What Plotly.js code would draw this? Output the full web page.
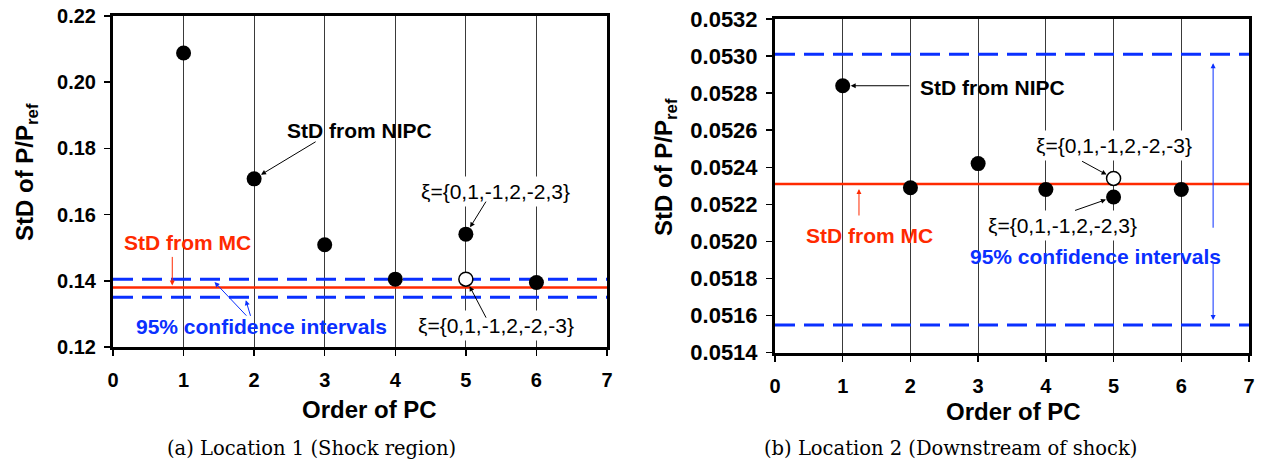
<!DOCTYPE html>
<html><head><meta charset="utf-8">
<script src="https://cdn.plot.ly/plotly-3.0.1.min.js"></script>
<style>html,body{margin:0;padding:0;background:#fff}#chart{width:1265px;height:464px}</style>
</head><body><div id="chart"></div>
<script>
// ---- data ----
const orders = [1, 2, 3, 4, 5, 6];
const lineX = [0, 7];
const xTicks = [0, 1, 2, 3, 4, 5, 6, 7];

// Location 1 (shock region)
const loc1Nipc = [0.2088, 0.1708, 0.1509, 0.1405, 0.1541, 0.1395];   // xi = {0,1,-1,2,-2,3}
const loc1AltOrder = [5];
const loc1Alt = [0.1405];                                           // xi = {0,1,-1,2,-2,-3}
const loc1Mc = [0.1380, 0.1380];
const loc1CiUpper = [0.1405, 0.1405];
const loc1CiLower = [0.1350, 0.1350];

// Location 2 (downstream of shock)
const loc2Nipc = [0.05284, 0.05229, 0.05242, 0.05228, 0.05224, 0.05228];
const loc2AltOrder = [5];
const loc2Alt = [0.05234];
const loc2Mc = [0.05231, 0.05231];
const loc2CiUpper = [0.05301, 0.05301];
const loc2CiLower = [0.05155, 0.05155];

// ---- style ----
const W = 1265, H = 464;
const px = v => v / W, py = v => 1 - v / H;
const SANS = 'Liberation Sans, Arial, sans-serif';
const SERIF = 'DejaVu Serif, Liberation Serif, serif';
const RED = '#ff2a00', BLUE = '#0a30ff';

function lines(xa, ya, mc, lo, hi) {
  return [
    {x: lineX, y: hi, xaxis: xa, yaxis: ya, mode: 'lines', line: {color: BLUE, width: 3, dash: '20px,9px'}, hoverinfo: 'skip'},
    {x: lineX, y: lo, xaxis: xa, yaxis: ya, mode: 'lines', line: {color: BLUE, width: 3, dash: '20px,9px'}, hoverinfo: 'skip'},
    {x: lineX, y: mc, xaxis: xa, yaxis: ya, mode: 'lines', line: {color: RED, width: 2.5}, hoverinfo: 'skip'}
  ];
}
function pts(xa, ya, ys, altX, altY) {
  return [
    {x: orders, y: ys, xaxis: xa, yaxis: ya, mode: 'markers', marker: {size: 15, color: '#000'}},
    {x: altX, y: altY, xaxis: xa, yaxis: ya, mode: 'markers', marker: {size: 14, color: '#fff', line: {color: '#000', width: 1.5}}}
  ];
}
const data = [
  ...lines('x', 'y', loc1Mc, loc1CiLower, loc1CiUpper),
  ...pts('x', 'y', loc1Nipc, loc1AltOrder, loc1Alt),
  ...lines('x2', 'y2', loc2Mc, loc2CiLower, loc2CiUpper),
  ...pts('x2', 'y2', loc2Nipc, loc2AltOrder, loc2Alt)
];

function xax(dom, anchor, fs) {
  return {domain: dom, anchor: anchor, range: [0, 7], tickvals: xTicks, showgrid: true, gridcolor: '#3a3a3a', gridwidth: 1,
    showline: true, mirror: true, linewidth: 3, linecolor: '#000', ticks: 'outside', ticklen: 6, tickwidth: 1.5, tickcolor: '#000',
    tickfont: {family: SANS, size: fs, weight: 'bold', color: '#000'}, ticklabelstandoff: 7, zeroline: false, fixedrange: true};
}
function yax(dom, anchor, range, dtick, fmt, fs) {
  return {domain: dom, anchor: anchor, range: range, dtick: dtick, tick0: range[0], tickformat: fmt, showgrid: false,
    showline: true, mirror: true, linewidth: 3, linecolor: '#000', ticks: 'outside', ticklen: 6, tickwidth: 1.5, tickcolor: '#000',
    tickfont: {family: SANS, size: fs, weight: 'bold', color: '#000'}, ticklabelstandoff: 4, zeroline: false, fixedrange: true};
}

function txt(text, cx, cy, opts) {
  return Object.assign({xref: 'paper', yref: 'paper', x: px(cx), y: py(cy), xanchor: 'center', yanchor: 'middle',
    text: text, showarrow: false, font: {family: SANS, size: 21, weight: 'bold', color: '#000'}}, opts || {});
}
function arr(xr, yr, x, y, ax, ay, color, standoff) {
  return {xref: xr, yref: yr, x: x, y: y, ax: ax, ay: ay, text: '', showarrow: true, arrowhead: 2, arrowsize: 1,
    arrowwidth: 1, arrowcolor: color, standoff: standoff};
}
const xiFont = {family: SANS, size: 21, weight: 'normal', color: '#000'};

const annotations = [
  // axis titles
  txt('Order of PC', 369, 409, {font: {family: SANS, size: 24, weight: 'bold', color: '#000'}}),
  txt('Order of PC', 1013, 411, {font: {family: SANS, size: 24, weight: 'bold', color: '#000'}}),
  txt('StD of P/P<sub>ref</sub>', 26, 172, {textangle: -90, font: {family: SANS, size: 24, weight: 'bold', color: '#000'}}),
  txt('StD of P/P<sub>ref</sub>', 665, 167, {textangle: -90, font: {family: SANS, size: 24, weight: 'bold', color: '#000'}}),
  // captions
  txt('(a) Location 1 (Shock region)', 311, 448, {font: {family: SERIF, size: 19.5, color: '#000'}}),
  txt('(b) Location 2 (Downstream of shock)', 950, 448, {font: {family: SERIF, size: 19.5, color: '#000'}}),
  // left labels
  txt('StD from NIPC', 359, 130),
  txt('StD from MC', 187, 242, {font: {family: SANS, size: 21, weight: 'bold', color: RED}}),
  txt('95% confidence intervals', 261, 326, {font: {family: SANS, size: 21, weight: 'bold', color: BLUE}}),
  txt('ξ={0,1,-1,2,-2,3}', 495, 191, {font: xiFont, bgcolor: '#fff', borderpad: 3}),
  txt('ξ={0,1,-1,2,-2,-3}', 496, 325, {font: xiFont, bgcolor: '#fff', borderpad: 3}),
  // right labels
  txt('StD from NIPC', 992, 87),
  txt('StD from MC', 869, 236, {font: {family: SANS, size: 21, weight: 'bold', color: RED}}),
  txt('ξ={0,1,-1,2,-2,-3}', 1114, 145, {font: xiFont, bgcolor: '#fff', borderpad: 3}),
  txt('ξ={0,1,-1,2,-2,3}', 1062, 225, {font: xiFont, bgcolor: '#fff', borderpad: 3}),
  txt('95% confidence intervals', 1095, 256, {font: {family: SANS, size: 21, weight: 'bold', color: BLUE}}),
  // left arrows
  arr('x', 'y', orders[1], loc1Nipc[1], 63, -38, '#000', 8),
  arr('x', 'y', 0.84, loc1Mc[0], 0, -32, RED, 2),
  arr('x', 'y', 1.40, loc1CiUpper[0], 36, 38, BLUE, 4),
  arr('x', 'y', 1.87, loc1CiLower[0], 6, 20, BLUE, 3),
  arr('x', 'y', orders[4], loc1Nipc[4], 21, -34, '#000', 8),
  arr('x', 'y', loc1AltOrder[0], loc1Alt[0], 21, 40, '#000', 8),
  // right arrows
  arr('x2', 'y2', orders[0], loc2Nipc[0], 68, 0, '#000', 8),
  arr('x2', 'y2', 1.24, loc2Mc[0], 0, 33, RED, 5),
  arr('x2', 'y2', loc2AltOrder[0], loc2Alt[0], -33, -18, '#000', 8),
  arr('x2', 'y2', orders[4], loc2Nipc[4], -40, 14, '#000', 8),
  arr('x2', 'y2', 6.47, loc2CiUpper[0], 0, 175, BLUE, 9),
  arr('x2', 'y2', 6.47, loc2CiLower[0], 0, -63, BLUE, 5)
];

const layout = {
  width: W, height: H, margin: {l: 0, r: 0, t: 0, b: 0}, showlegend: false,
  paper_bgcolor: '#fff', plot_bgcolor: '#fff',
  xaxis: xax([px(113), px(607)], 'y', 20),
  yaxis: yax([py(347), py(16)], 'x', [0.12, 0.22], 0.02, '.2f', 20),
  xaxis2: xax([px(775), px(1249)], 'y2', 20),
  yaxis2: yax([py(352.7), py(19)], 'x2', [0.0514, 0.0532], 0.0002, '.4f', 22),
  annotations: annotations
};
Plotly.newPlot('chart', data, layout, {staticPlot: true, displayModeBar: false});
</script>
</body></html>
